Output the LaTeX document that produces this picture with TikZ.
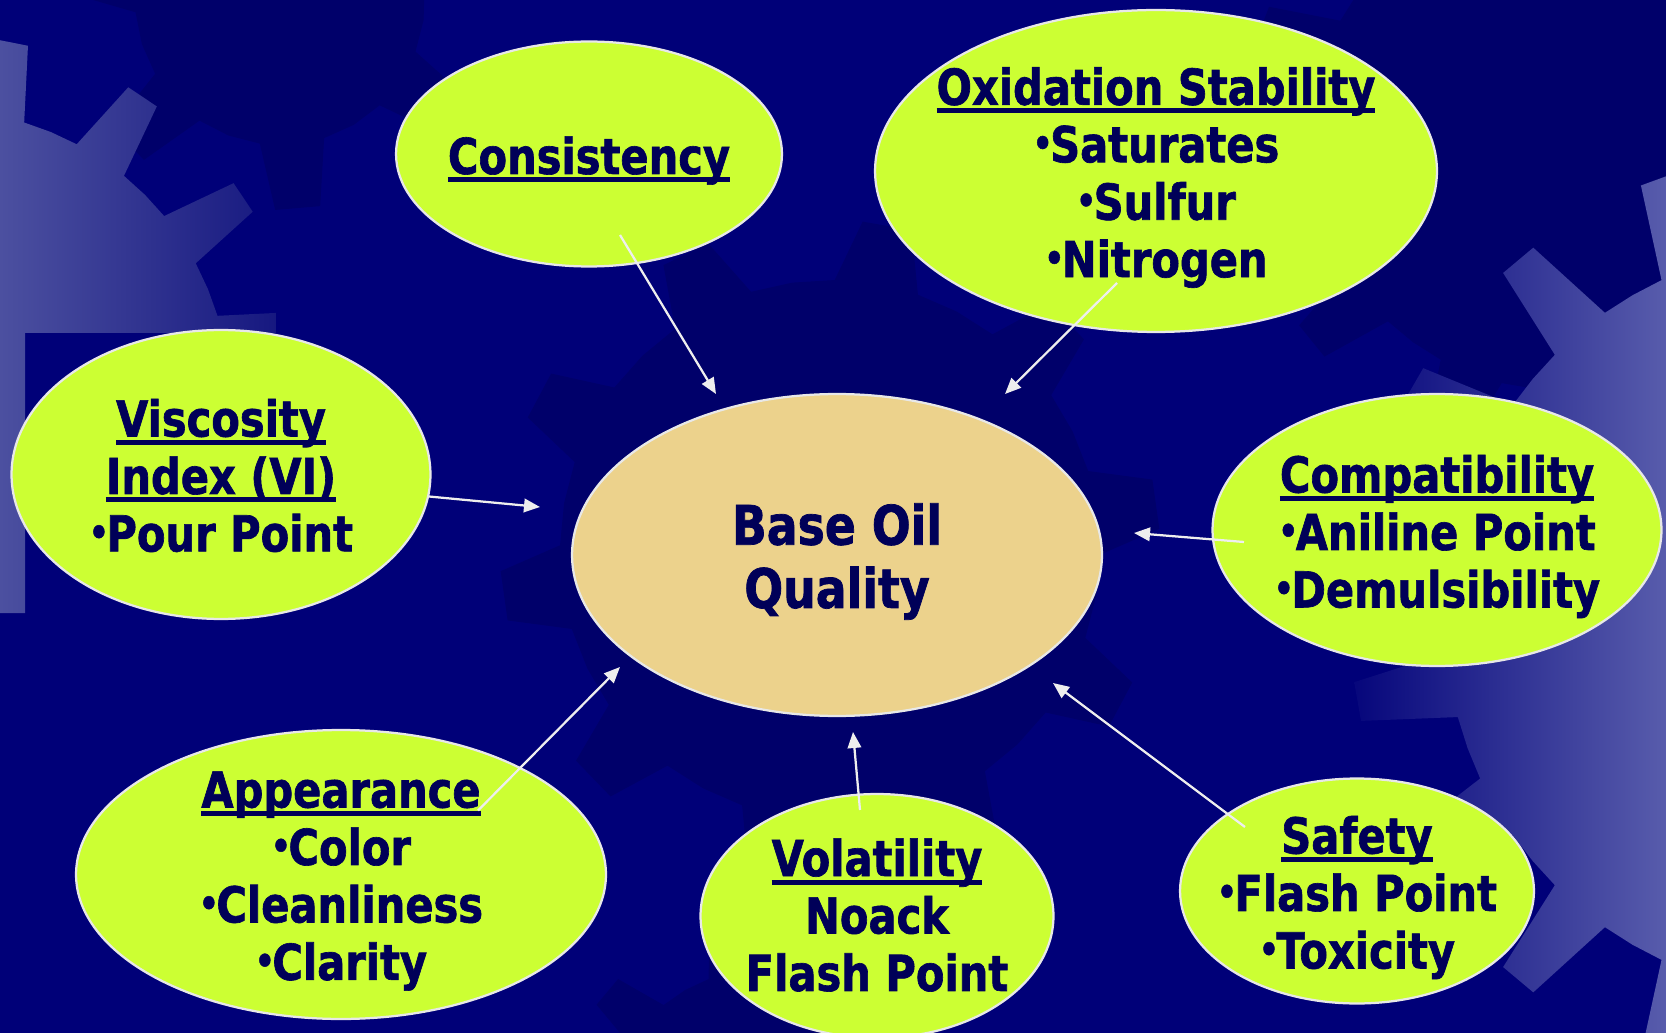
\documentclass[tikz,border=0pt]{standalone}
\usepackage{fontspec}
\setmainfont{DejaVu Sans}[FakeStretch=0.84, BoldFeatures={FakeBold=1.3}]
\usetikzlibrary{shapes.geometric, arrows.meta}
\usepackage{xcolor}
\definecolor{navybg}{RGB}{0,0,120}
\definecolor{navydark}{RGB}{0,0,106}
\definecolor{gearleft}{RGB}{76,80,160}
\definecolor{gearfade}{RGB}{22,24,128}
\definecolor{gearright}{RGB}{88,92,172}
\definecolor{limefill}{RGB}{204,255,51}
\definecolor{tanfill}{RGB}{236,210,140}
\definecolor{rim}{RGB}{232,232,232}
\definecolor{arrowwhite}{RGB}{238,238,238}
\definecolor{ink}{RGB}{0,0,88}

% thick underline for the headings
\newcommand{\uln}[1]{\setbox0=\hbox{#1}\rlap{\rule[-0.17cm]{\wd0}{0.1cm}}\box0}
% small bullet set tight to the word
\newcommand{\dotitem}{\raisebox{0.12em}{\scalebox{0.75}{•}}\kern-0.05em}

\begin{document}
\begin{tikzpicture}[x=0.02cm, y=-0.02cm]
	\tikzstyle{bubble} = [ellipse, draw=rim, line width=0.045cm, fill=limefill, inner sep=0pt]
	\tikzstyle{core} = [bubble, fill=tanfill]
	\tikzstyle{words} = [text=ink, align=center, inner sep=0pt, yshift=-0.13cm, font=\fontsize{28.2}{32.7}\selectfont\bfseries]
	\tikzstyle{feed} = [draw=arrowwhite, line width=0.045cm, -{Triangle[length=0.32cm,width=0.27cm]}]
	% gear outline: centre x, centre y, root radius, tip radius, teeth, turn
	\tikzset{gear/.style n args={6}{insert path={
		({#1+#3*cos(#6)},{#2+#3*sin(#6)})
		\foreach \k in {1,...,#5}{
			-- ({#1+#3*cos(#6+(\k-0.75)*360/#5)},{#2+#3*sin(#6+(\k-0.75)*360/#5)})
			-- ({#1+#4*cos(#6+(\k-0.62)*360/#5)},{#2+#4*sin(#6+(\k-0.62)*360/#5)})
			-- ({#1+#4*cos(#6+(\k-0.38)*360/#5)},{#2+#4*sin(#6+(\k-0.38)*360/#5)})
			-- ({#1+#3*cos(#6+(\k-0.25)*360/#5)},{#2+#3*sin(#6+(\k-0.25)*360/#5)})
			-- ({#1+#3*cos(#6+\k*360/#5)},{#2+#3*sin(#6+\k*360/#5)})
		} -- cycle}}}

	\useasboundingbox (0,0) rectangle (1666,1033);
	\fill[navybg] (0,0) rectangle (1666,1033);

	% dark gears in the back
	\fill[navydark, gear={280}{0}{145}{210}{7}{8}];
	\fill[navydark, gear={830}{550}{270}{330}{10}{10}];
	\fill[navydark, gear={1560}{140}{250}{320}{12}{6}];
	\fill[navydark, gear={760}{1120}{150}{200}{9}{0}];

	% light gears
	\begin{scope}
		\clip (0,0) rectangle (276,333) (0,0) rectangle (25,613);
		\clip[gear={-60}{400}{290}{365}{16}{-90}];
		\shade[left color=gearleft, right color=gearfade] (0,0) rectangle (276,613);
	\end{scope}
	\begin{scope}
		\clip[gear={1820}{620}{375}{470}{18}{0}];
		\shade[left color=navybg, right color=gearright] (1330,0) rectangle (1666,1033);
	\end{scope}

	% ellipses
	\node[bubble, minimum width=7.72cm, minimum height=4.5cm] (cons) at (589,154) {};
	\node[bubble, minimum width=11.24cm, minimum height=6.44cm] (ox) at (1156,171) {};
	\node[bubble, minimum width=8.38cm, minimum height=5.78cm] (visc) at (221,474.5) {};
	\node[core, minimum width=10.6cm, minimum height=6.44cm] (base) at (837,555) {};
	\node[bubble, minimum width=8.98cm, minimum height=5.44cm] (comp) at (1437,530) {};
	\node[bubble, minimum width=10.6cm, minimum height=5.78cm] (app) at (341,874.5) {};
	\node[bubble, minimum width=7.06cm, minimum height=4.88cm] (vol) at (877,916) {};
	\node[bubble, minimum width=7.08cm, minimum height=4.5cm] (safe) at (1357,891) {};

	% texts
	\node[words] (cons-t) at (cons) {\uln{Consistency}};
	\node[words] (ox-t) at (ox) {\uln{Oxidation Stability}\\\dotitem Saturates\\\dotitem Sulfur\\\dotitem Nitrogen};
	\node[words, yshift=0.11cm] (visc-t) at (visc) {\uln{Viscosity}\\\uln{Index (VI)}\\\dotitem Pour Point};
	\node[words, font=\fontsize{31}{36}\selectfont\bfseries] (base-t) at (base) {Base Oil\\Quality};
	\node[words] (comp-t) at (comp) {\uln{Compatibility}\\\dotitem Aniline Point\\\dotitem Demulsibility};
	\node[words] (app-t) at (app) {\uln{Appearance}\\\dotitem Color\\\dotitem Cleanliness\\\dotitem Clarity};
	\node[words, yshift=0.15cm] (vol-t) at (vol) {\uln{Volatility}\\Noack\\Flash Point};
	\node[words] (safe-t) at (safe) {\uln{Safety}\\\dotitem Flash Point\\\dotitem Toxicity};

	% arrows into the centre
	\draw[feed] ([shift={(31,81)}]cons.center) -- ([shift={(-121,-161)}]base.center);
	\draw[feed] ([shift={(-39,112)}]ox.center) -- ([shift={(168,-161)}]base.center);
	\draw[feed] ([shift={(208,22)}]visc.center) -- ([shift={(-297,-48)}]base.center);
	\draw[feed] ([shift={(-193,12)}]comp.center) -- ([shift={(297,-22)}]base.center);
	\draw[feed] ([shift={(137,-64)}]app.center) -- ([shift={(-217,112)}]base.center);
	\draw[feed] ([shift={(-17,-106)}]vol.center) -- ([shift={(16,177)}]base.center);
	\draw[feed] ([shift={(-112,-64)}]safe.center) -- ([shift={(216,128)}]base.center);
\end{tikzpicture}
\end{document}
